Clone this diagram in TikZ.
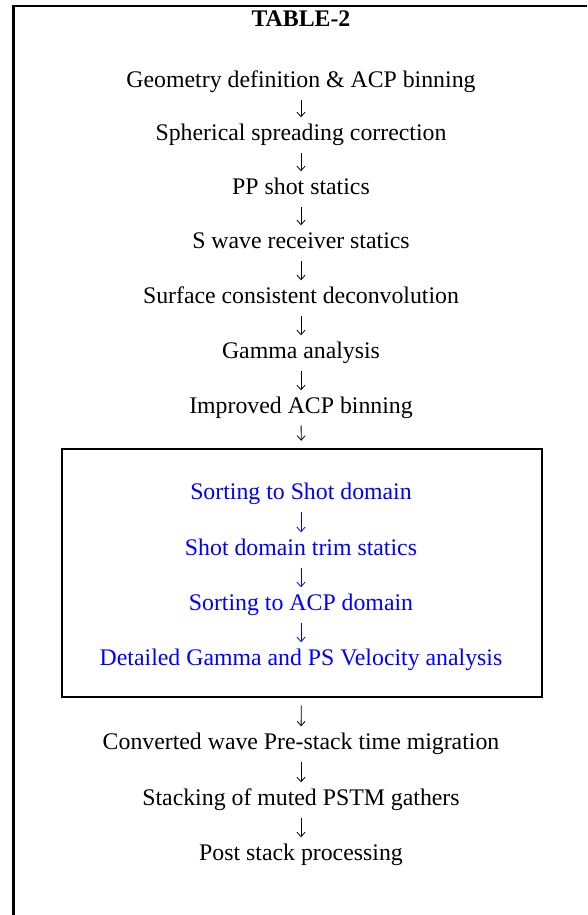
\documentclass[tikz,border=0pt]{standalone}
\usepackage{fontspec}
\setmainfont{Liberation Serif}
\usetikzlibrary{arrows.meta, positioning}

\begin{document}
\begin{tikzpicture}[x=1pt, y=-1pt,
    stepname/.style={inner sep=0pt, text height=16pt, text depth=5pt,
        font=\fontsize{23.8}{28}\selectfont},
    inbox/.style={stepname, blue},
    flow/.style={-{Straight Barb[length=4.5pt, width=8pt]}, line width=0.8pt,
        shorten <=7pt, shorten >=7pt},
    frame/.style={line width=2.5pt}]
    \useasboundingbox (0,0) rectangle (587,915);

    % Outer frame (open on the right and at the bottom)
    \draw[frame] (13.5,915) |- (587,6);

    % Title
    \node[font=\fontsize{23.8}{28}\selectfont\bfseries] (title) at (301,19) {TABLE-2};

    % Nodes
    \node[stepname] (geom) at (301,82) {Geometry definition \& ACP binning};
    \node[stepname] (spread) at (301,135) {Spherical spreading correction};
    \node[stepname] (ppstat) at (301,189) {PP shot statics};
    \node[stepname] (srstat) at (301,243) {S wave receiver statics};
    \node[stepname] (scdecon) at (301,298) {Surface consistent deconvolution};
    \node[stepname] (gamma) at (301,353) {Gamma analysis};
    \node[stepname] (acpbin) at (301,408) {Improved ACP binning};

    % Boxed stage
    \node[frame, draw, minimum width=480pt, minimum height=248pt] (stage) at (302,573) {};
    \node[inbox] (sortshot) at (301,494) {Sorting to Shot domain};
    \node[inbox] (trim) at (301,550) {Shot domain trim statics};
    \node[inbox] (sortacp) at (301,605) {Sorting to ACP domain};
    \node[inbox] (velan) at (301,660) {Detailed Gamma and PS Velocity analysis};

    \node[stepname] (pstm) at (301,744) {Converted wave Pre-stack time migration};
    \node[stepname] (stack) at (301,800) {Stacking of muted PSTM gathers};
    \node[stepname] (post) at (301,855) {Post stack processing};

    % Arrows
    \draw[flow] (geom) -- (spread);
    \draw[flow] (spread) -- (ppstat);
    \draw[flow] (ppstat) -- (srstat);
    \draw[flow] (srstat) -- (scdecon);
    \draw[flow] (scdecon) -- (gamma);
    \draw[flow] (gamma) -- (acpbin);
    \draw[flow] (acpbin) -- (stage);
    \draw[flow, blue] (sortshot) -- (trim);
    \draw[flow, blue] (trim) -- (sortacp);
    \draw[flow, blue] (sortacp) -- (velan);
    \draw[flow] (stage) -- (pstm);
    \draw[flow] (pstm) -- (stack);
    \draw[flow] (stack) -- (post);
\end{tikzpicture}
\end{document}
